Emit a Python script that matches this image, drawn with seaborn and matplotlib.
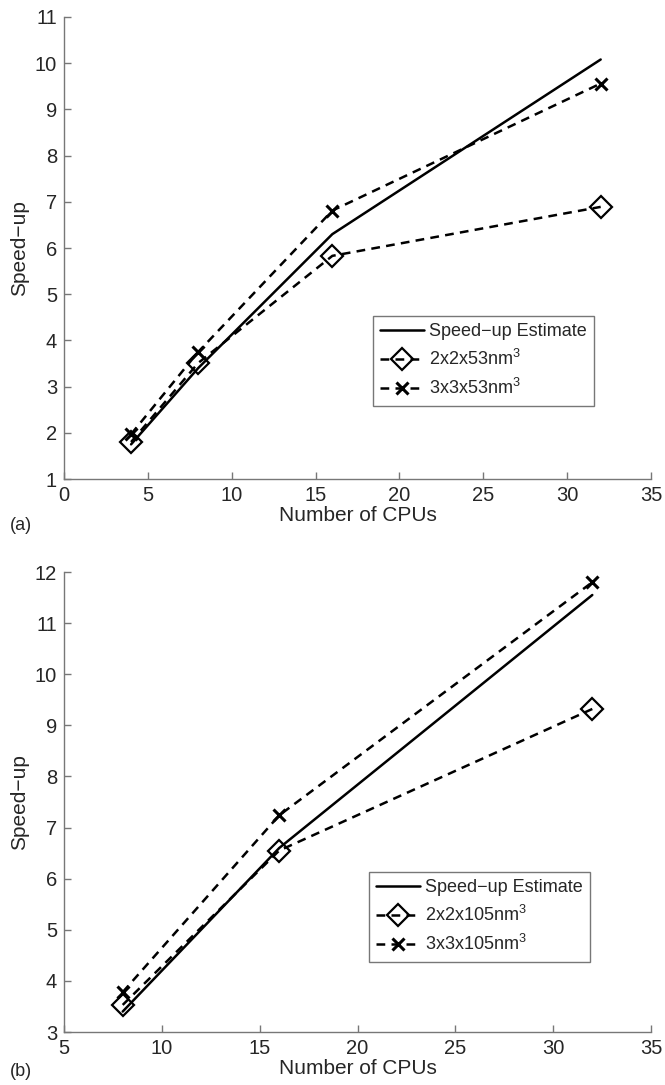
import matplotlib
matplotlib.use("Agg")
import matplotlib.pyplot as plt
import seaborn as sns
import pandas as pd

# -----------------------------
# Data
# -----------------------------
cpus_a = [4, 8, 16, 32]
estimate_a = [1.75, 3.4, 6.3, 10.08]
small_a = [1.8, 3.51, 5.83, 6.89]
large_a = [1.97, 3.75, 6.81, 9.56]
labels_a = ["Speed\u2212up Estimate", "2x2x53nm$^3$", "3x3x53nm$^3$"]

cpus_b = [8, 16, 32]
estimate_b = [3.4, 6.6, 11.55]
small_b = [3.53, 6.55, 9.32]
large_b = [3.78, 7.24, 11.8]
labels_b = ["Speed\u2212up Estimate", "2x2x105nm$^3$", "3x3x105nm$^3$"]

sns.set_style("ticks")
plt.rcParams["font.family"] = ["Liberation Sans", "DejaVu Sans"]
plt.rcParams["mathtext.fontset"] = "custom"
plt.rcParams["mathtext.rm"] = "Liberation Sans"

fig = plt.figure(figsize=(6.65, 10.85), dpi=100)
W, H = 665, 1085
ax_a = fig.add_axes([64 / W, 1 - 479 / H, (651 - 64) / W, (479 - 17) / H])
ax_b = fig.add_axes([64 / W, 1 - 1032 / H, (651 - 64) / W, (1032 - 572) / H])


def draw_panel(ax, cpus, est, small, large, labels):
    df = pd.DataFrame({"cpus": cpus, "est": est, "small": small, "large": large})
    sns.lineplot(data=df, x="cpus", y="est", ax=ax, color="black", lw=1.8,
                 linestyle="-", label=labels[0])
    sns.lineplot(data=df, x="cpus", y="small", ax=ax, color="black", lw=1.8,
                 linestyle=(0, (3.5, 2.5)), marker="D", markersize=11.5,
                 markerfacecolor="none", markeredgecolor="black",
                 markeredgewidth=1.6, label=labels[1])
    sns.lineplot(data=df, x="cpus", y="large", ax=ax, color="black", lw=1.8,
                 linestyle=(0, (3.5, 2.5)), marker="x", markersize=8,
                 markeredgecolor="black", markeredgewidth=2.2, label=labels[2])
    for s in ["top", "right"]:
        ax.spines[s].set_visible(False)
    for s in ["left", "bottom"]:
        ax.spines[s].set_color("#777777")
        ax.spines[s].set_linewidth(1.0)
    ax.tick_params(direction="in", length=5, width=1.0, color="#777777",
                   labelsize=14.5, pad=5)
    ax.set_xlabel("Number of CPUs", fontsize=15, labelpad=1)
    ax.set_ylabel("Speed\u2212up", fontsize=15, labelpad=4)


draw_panel(ax_a, cpus_a, estimate_a, small_a, large_a, labels_a)
ax_a.set_xlim(0, 35)
ax_a.set_ylim(1, 11)
ax_a.set_xticks(range(0, 36, 5))
ax_a.set_yticks(range(1, 12))

draw_panel(ax_b, cpus_b, estimate_b, small_b, large_b, labels_b)
ax_b.set_xlim(5, 35)
ax_b.set_ylim(3, 12)
ax_b.set_xticks(range(5, 36, 5))
ax_b.set_yticks(range(3, 13))

# legends placed in figure pixel boxes
for ax, box in [(ax_a, (373, 316, 592, 404)), (ax_b, (369, 872, 609, 967))]:
    x0, y0, x1, y1 = box
    leg = ax.legend(loc="upper left",
                    bbox_to_anchor=(x0 / W, 1 - y0 / H),
                    bbox_transform=fig.transFigure,
                    fontsize=13, frameon=True, fancybox=False,
                    handlelength=2.4, handletextpad=0.3, borderpad=0.4,
                    labelspacing=0.5, borderaxespad=0)
    leg.get_frame().set_edgecolor("#555555")
    leg.get_frame().set_linewidth(1.0)

fig.text(10 / W, 1 - 525 / H, "(a)", fontsize=13, va="center", ha="left")
fig.text(10 / W, 1 - 1071 / H, "(b)", fontsize=13, va="center", ha="left")

fig.savefig("out.png", dpi=100)
